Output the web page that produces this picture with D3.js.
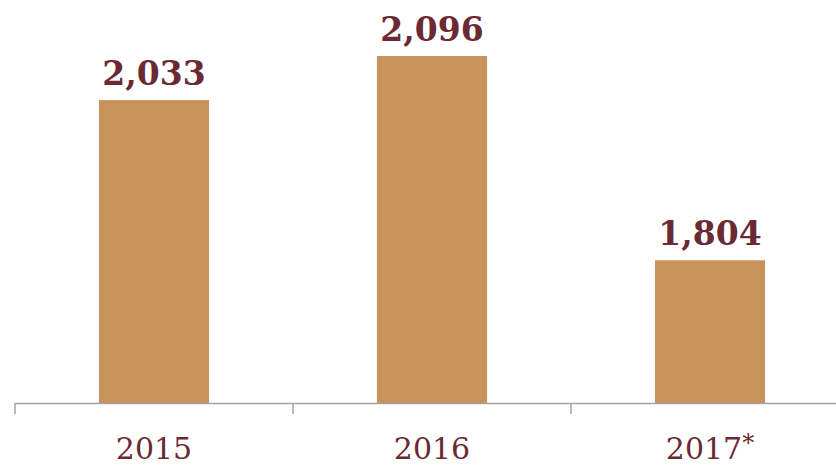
<!DOCTYPE html>
<html lang="es">
<head>
    <meta charset="utf-8">
    <title>Bar chart</title>
    <script src="https://d3js.org/d3.v7.min.js"></script>
    <style>
        body { margin: 0; background: #ffffff; }
    </style>
</head>
<body>
<div id="chart"></div>
<script>
    // Data
    const years = ["2015", "2016", "2017*"];
    const values = [2033, 2096, 1804];

    const width = 836, height = 468;
    const baseY = 403;

    const svg = d3.select("#chart")
        .append("svg")
        .attr("width", width)
        .attr("height", height);

    // x: bands across the axis, y: truncated value axis
    const x = d3.scaleBand()
        .domain(years)
        .range([15, 849])
        .paddingInner(0.604)
        .paddingOuter(0.302);

    const y = d3.scaleLinear()
        .domain([1600, 2096])
        .range([baseY, 56]);

    const step = x.step();
    const gap = (step - x.bandwidth()) / 2;

    // Bars
    svg.append("g")
        .selectAll("rect")
        .data(values)
        .join("rect")
        .attr("x", (d, i) => x(years[i]))
        .attr("y", d => y(d))
        .attr("width", x.bandwidth())
        .attr("height", d => baseY - y(d))
        .attr("fill", "#c8935a");

    // Value labels
    svg.append("g")
        .selectAll("text")
        .data(values)
        .join("text")
        .attr("x", (d, i) => x(years[i]) + x.bandwidth() / 2)
        .attr("y", d => y(d) - 15)
        .attr("text-anchor", "middle")
        .attr("font-family", "'DejaVu Serif', serif")
        .attr("font-weight", "bold")
        .attr("font-size", 33)
        .attr("fill", "#6b2a33")
        .text(d => d3.format(",")(d));

    // Axis line with ticks between categories
    const axis = svg.append("g");
    axis.append("line")
        .attr("x1", x.range()[0])
        .attr("x2", x.range()[1])
        .attr("y1", baseY + 0.5)
        .attr("y2", baseY + 0.5)
        .attr("stroke", "#a9a1a8")
        .attr("stroke-width", 1.5);

    axis.selectAll(".tick")
        .data(years)
        .join("line")
        .attr("class", "tick")
        .attr("x1", d => x(d) - gap)
        .attr("x2", d => x(d) - gap)
        .attr("y1", baseY)
        .attr("y2", baseY + 11)
        .attr("stroke", "#a9a1a8")
        .attr("stroke-width", 1.5);

    // Category labels
    axis.selectAll(".label")
        .data(years)
        .join("text")
        .attr("class", "label")
        .attr("x", d => x(d) + x.bandwidth() / 2)
        .attr("y", 459)
        .attr("text-anchor", "middle")
        .attr("font-family", "'DejaVu Serif', serif")
        .attr("font-size", 30)
        .attr("fill", "#6b2a33")
        .text(d => d.replace("*", ""))
        .append("tspan")
        .attr("dy", -8)
        .attr("font-size", 24)
        .text(d => d.includes("*") ? "*" : "");
</script>
</body>
</html>
